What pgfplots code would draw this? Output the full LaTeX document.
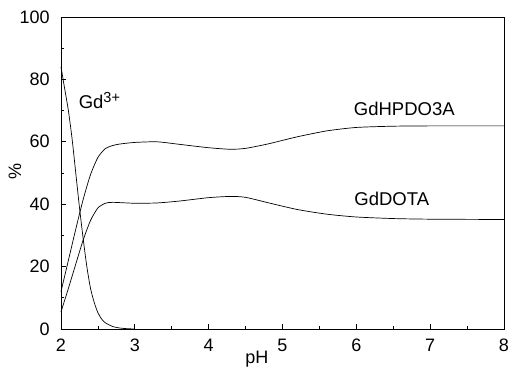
\documentclass[border=0pt]{standalone}
\usepackage{fontspec}
\setmainfont{Liberation Sans}
\usepackage{pgfplots}
\pgfplotsset{compat=1.18}
\begin{document}
\fontsize{18.5}{22}\selectfont
\begin{tikzpicture}
\begin{axis}[
  scale only axis,
  width=443pt, height=312pt,
  xmin=2, xmax=8, ymin=0, ymax=100,
  xtick={2,3,4,5,6,7,8},
  ytick={0,20,40,60,80,100},
  minor x tick num=1, minor y tick num=1,
  tick align=inside,
  xtick pos=left, ytick pos=left,
  major tick length=5pt, minor tick length=3pt,
  axis line style={line width=0.8pt},
  every tick/.style={line width=0.7pt, black},
  /pgf/number format/assume math mode=true,
  tick label style={font=\fontsize{18}{21}\selectfont},
  xticklabel shift=4pt, yticklabel shift=5pt,
  xlabel={pH}, ylabel={\%},
  label style={font=\fontsize{18}{21}\selectfont},
  xlabel style={at={(rel axis cs:0.442,0)}, anchor=north, yshift=-22pt, inner sep=0pt},
  ylabel style={at={(rel axis cs:0,0.505)}, anchor=center, yshift=46pt},
  clip=false,
]
\coordinate (ll) at (rel axis cs:0,0);
\coordinate (ur) at (rel axis cs:1,1);
% Gd3+
\addplot[black, line width=0.7pt, smooth, tension=0.4] coordinates {
(2.00,84) (2.05,77) (2.10,70) (2.15,61) (2.20,50) (2.25,39) (2.30,29)
(2.35,20) (2.40,13) (2.45,8.5) (2.50,5.2) (2.55,3.2) (2.60,2.0)
(2.70,0.8) (2.80,0.3) (2.90,0.1) (3.00,0)
};
% GdHPDO3A
\addplot[black, line width=0.7pt, smooth, tension=0.4] coordinates {
(2.00,12) (2.10,22) (2.20,32) (2.30,41.5) (2.40,49.5) (2.50,55) (2.60,57.8)
(2.70,58.8) (2.80,59.3) (3.00,59.8) (3.30,60) (3.60,59.2) (4.00,58.1)
(4.30,57.6) (4.50,57.9) (4.80,59.3) (5.20,61.6) (5.60,63.5) (6.00,64.6)
(6.50,65.0) (7.00,65.1) (8.00,65.1)
};
% GdDOTA
\addplot[black, line width=0.7pt, smooth, tension=0.4] coordinates {
(2.00,5.5) (2.10,13) (2.20,20.8) (2.30,28.5) (2.40,34.8) (2.50,38.8)
(2.60,40.3) (2.70,40.6) (3.00,40.3) (3.30,40.4) (3.60,41.0) (4.00,42.1)
(4.30,42.5) (4.50,42.2) (4.80,40.5) (5.20,38.3) (5.60,36.8) (6.00,35.9)
(6.50,35.4) (7.00,35.2) (8.00,35.1)
};
\node at (axis cs:2.52,73.3) {Gd{\fontsize{14.5}{16}\selectfont\raisebox{0.42em}{3+}}};
\node at (axis cs:6.65,70.4) {GdHPDO3A};
\node at (axis cs:6.48,41.6) {GdDOTA};
\end{axis}
\pgfresetboundingbox
\path ([shift={(-61pt,-44pt)}]ll) rectangle ([shift={(4pt,17pt)}]ur);
\end{tikzpicture}
\end{document}
